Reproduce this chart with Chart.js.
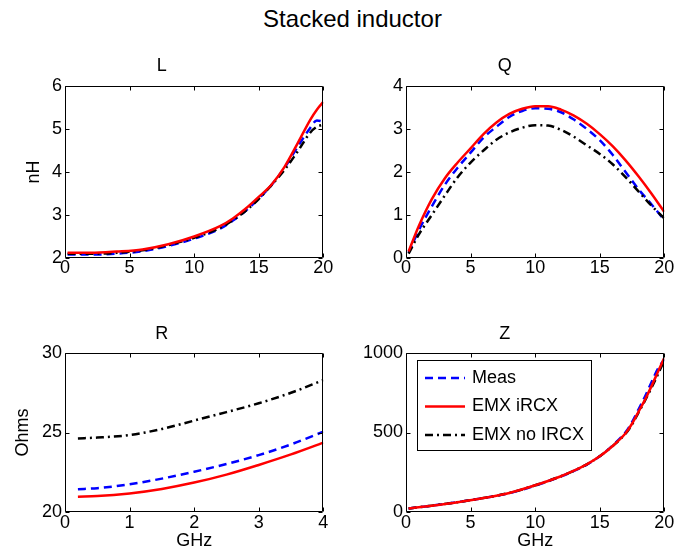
<!DOCTYPE html>
<html><head><meta charset="utf-8">
<script src="https://cdn.jsdelivr.net/npm/chart.js@4.4.1/dist/chart.umd.min.js"></script>
<style>
html,body{margin:0;padding:0;background:#fff;}
body{width:691px;height:557px;position:relative;overflow:hidden;font-family:"Liberation Sans",Arial,Helvetica,sans-serif;}
canvas{position:absolute;}
#mainTitle{position:absolute;left:0;width:705px;top:5px;text-align:center;font-size:24px;color:#000;white-space:nowrap;}
</style></head><body>
<div id="mainTitle">Stacked inductor</div>
<canvas id="cL"></canvas>
<canvas id="cQ"></canvas>
<canvas id="cR"></canvas>
<canvas id="cZ"></canvas>
<script>
// ---- data ----
const seriesNames = ['Meas', 'EMX iRCX', 'EMX no IRCX'];

const fL = [0.2, 2, 4, 6, 8, 10, 12, 13, 14, 15, 16, 17, 18, 19, 19.5, 20];
const lMeas = [2.08, 2.08, 2.10, 2.16, 2.28, 2.45, 2.68, 2.87, 3.10, 3.38, 3.70, 4.10, 4.58, 5.03, 5.20, 5.17];
const lEmx  = [2.12, 2.12, 2.15, 2.20, 2.32, 2.50, 2.74, 2.92, 3.15, 3.42, 3.71, 4.12, 4.66, 5.22, 5.45, 5.63];
const lNo   = [2.10, 2.10, 2.12, 2.18, 2.30, 2.47, 2.70, 2.88, 3.10, 3.37, 3.70, 4.05, 4.47, 4.92, 5.05, 5.10];

const fQ = [0.2, 1, 2, 3, 4, 5, 6, 7, 8, 9, 10, 11, 12, 13, 14, 15, 16, 17, 18, 19, 20];
const qMeas = [0.12, 0.65, 1.20, 1.70, 2.10, 2.45, 2.80, 3.05, 3.28, 3.42, 3.48, 3.47, 3.39, 3.22, 3.00, 2.74, 2.40, 2.00, 1.60, 1.25, 0.88];
const qEmx  = [0.15, 0.75, 1.37, 1.85, 2.22, 2.55, 2.88, 3.15, 3.35, 3.47, 3.53, 3.53, 3.45, 3.31, 3.12, 2.88, 2.60, 2.27, 1.90, 1.50, 1.07];
const qNo   = [0.10, 0.55, 1.00, 1.45, 1.88, 2.22, 2.50, 2.75, 2.92, 3.03, 3.09, 3.08, 2.98, 2.82, 2.62, 2.42, 2.18, 1.88, 1.55, 1.22, 0.92];

const fR = [0.2, 0.5, 1, 1.5, 2, 2.5, 3, 3.5, 4];
const rMeas = [21.43, 21.50, 21.74, 22.10, 22.53, 23.02, 23.58, 24.25, 25.05];
const rEmx  = [20.96, 21.00, 21.17, 21.45, 21.85, 22.35, 22.96, 23.62, 24.36];
const rNo   = [24.63, 24.68, 24.84, 25.22, 25.75, 26.28, 26.84, 27.50, 28.30];

const fZ = [0.2, 2, 4, 6, 8, 10, 12, 13, 14, 15, 16, 17, 17.5, 18, 18.5, 19, 19.5, 20];
const zMeas = [22, 40, 62, 88, 118, 166, 224, 258, 298, 350, 418, 502, 565, 645, 725, 815, 900, 960];
const zEmx  = [22, 40, 62, 88, 120, 168, 225, 260, 300, 350, 415, 495, 555, 630, 705, 790, 880, 970];
const zNo   = [22, 40, 62, 88, 120, 168, 225, 260, 300, 350, 415, 493, 550, 625, 700, 780, 865, 955];

const ticksL = {min: 2, max: 6, step: 1};
const ticksQ = {min: 0, max: 4, step: 1};
const ticksR = {min: 20, max: 30, step: 5};
const ticksZ = {min: 0, max: 1000, step: 500};
const xTicks20 = {min: 0, max: 20, step: 5};
const xTicks4 = {min: 0, max: 4, step: 1};

// ---- styling ----
const FAM = '"Liberation Sans", Arial, Helvetica, sans-serif';
const styles = [
  {borderColor: '#0000ff', borderDash: [8, 5], order: 3},
  {borderColor: '#ff0000', borderDash: [], order: 1},
  {borderColor: '#000000', borderDash: [8, 4, 2, 4], order: 2}
];

function pts(xs, ys) { return xs.map((x, i) => ({x: x, y: ys[i]})); }
function makeSets(xs, arrs) {
  return arrs.map((ys, i) => Object.assign({
    label: seriesNames[i], data: pts(xs, ys), borderWidth: 2.5,
    pointRadius: 0, fill: false, cubicInterpolationMode: 'monotone'
  }, styles[i]));
}

const framePlugin = {
  id: 'frame',
  afterDraw(chart) {
    const {ctx, chartArea: a, scales: {x, y}} = chart;
    const L = Math.round(a.left) + 0.5, R = Math.round(a.right) - 0.5;
    const T = Math.round(a.top) + 0.5, B = Math.round(a.bottom) - 0.5;
    const tl = 4;
    ctx.save();
    ctx.strokeStyle = '#000'; ctx.lineWidth = 1; ctx.setLineDash([]);
    ctx.beginPath();
    ctx.rect(L, T, R - L, B - T);
    x.ticks.forEach(t => {
      const px = Math.round(x.getPixelForValue(t.value)) + 0.5;
      ctx.moveTo(px, B); ctx.lineTo(px, B - tl);
      ctx.moveTo(px, T); ctx.lineTo(px, T + tl);
    });
    y.ticks.forEach(t => {
      const py = Math.round(y.getPixelForValue(t.value)) + 0.5;
      ctx.moveTo(L, py); ctx.lineTo(L + tl, py);
      ctx.moveTo(R, py); ctx.lineTo(R - tl, py);
    });
    ctx.stroke();
    ctx.restore();
  }
};

const boxLegendPlugin = {
  id: 'boxLegend',
  afterDraw(chart) {
    const {ctx, chartArea: a} = chart;
    const bx = a.left + 11, by = a.top + 7, bw = 174, bh = 90;
    ctx.save();
    ctx.fillStyle = '#fff';
    ctx.fillRect(bx, by, bw, bh);
    ctx.strokeStyle = '#000'; ctx.lineWidth = 1; ctx.setLineDash([]);
    ctx.strokeRect(Math.round(bx) + 0.5, Math.round(by) + 0.5, bw, bh);
    const rows = [25, 53.5, 82];
    chart.data.datasets.forEach((ds, i) => {
      const yy = a.top + rows[i];
      ctx.beginPath();
      ctx.strokeStyle = ds.borderColor; ctx.lineWidth = ds.borderWidth;
      ctx.setLineDash(ds.borderDash || []);
      ctx.moveTo(a.left + 19, yy); ctx.lineTo(a.left + 59, yy);
      ctx.stroke();
      ctx.setLineDash([]);
      ctx.fillStyle = '#000';
      ctx.font = '18px ' + FAM;
      ctx.textBaseline = 'middle'; ctx.textAlign = 'left';
      ctx.fillText(ds.label, a.left + 66, yy);
    });
    ctx.restore();
  }
};

function makeChart(id, cfg) {
  const c = document.getElementById(id);
  c.width = cfg.w; c.height = cfg.h;
  c.style.left = cfg.left + 'px'; c.style.top = cfg.top + 'px';
  c.style.width = cfg.w + 'px'; c.style.height = cfg.h + 'px';
  const tickFont = {family: FAM, size: 18, lineHeight: 1.2};
  const labelFont = {family: FAM, size: 18, lineHeight: 1.2};
  const plain = v => String(v);
  return new Chart(c, {
    type: 'line',
    data: {datasets: cfg.datasets},
    options: {
      responsive: false, animation: false, devicePixelRatio: 1,
      layout: {padding: {left: 0, right: cfg.padRight, top: 0, bottom: 0}},
      plugins: {
        legend: {display: false}, tooltip: {enabled: false},
        title: {display: true, text: cfg.title, color: '#000',
          font: {family: FAM, size: 18, weight: 'normal', lineHeight: 1.2},
          padding: {top: cfg.titlePadTop, bottom: cfg.titlePadBottom}}
      },
      scales: {
        x: {
          type: 'linear', min: cfg.xt.min, max: cfg.xt.max,
          grid: {display: false, drawTicks: false}, border: {display: false},
          ticks: {stepSize: cfg.xt.step, color: '#000', font: tickFont, padding: cfg.xTickPad, maxRotation: 0, autoSkip: false, callback: plain},
          title: cfg.xTitle ? {display: true, text: cfg.xTitle, color: '#000', font: labelFont, padding: {top: 0, bottom: cfg.xTitlePad}} : {display: false},
          afterFit(s) { s.height = cfg.xh; }
        },
        y: {
          type: 'linear', min: cfg.yt.min, max: cfg.yt.max,
          grid: {display: false, drawTicks: false}, border: {display: false},
          ticks: {stepSize: cfg.yt.step, color: '#000', font: tickFont, padding: 3, autoSkip: false, callback: plain},
          title: cfg.yTitle ? {display: true, text: cfg.yTitle, color: '#000', font: labelFont, padding: {top: cfg.yTitlePad, bottom: 0}} : {display: false},
          afterFit(s) { s.width = cfg.yw; }
        }
      }
    },
    plugins: cfg.legend ? [framePlugin, boxLegendPlugin] : [framePlugin]
  });
}

// top row: plot area y 86..258 ; bottom row: 353..512
// left col: x 65..323.3 ; right col: 406..664.3
makeChart('cL', {left: 0, top: 50, w: 345, h: 235, padRight: 21.7, yw: 65, xh: 27,
  title: 'L', titlePadTop: 5.7, titlePadBottom: 8.7, xTickPad: -0.5,
  xt: xTicks20, yt: ticksL, yTitle: 'nH', yTitlePad: 23.7,
  datasets: makeSets(fL, [lMeas, lEmx, lNo])});
makeChart('cQ', {left: 345, top: 50, w: 346, h: 235, padRight: 26.7, yw: 61, xh: 27,
  title: 'Q', titlePadTop: 5.7, titlePadBottom: 8.7, xTickPad: -0.5,
  xt: xTicks20, yt: ticksQ,
  datasets: makeSets(fQ, [qMeas, qEmx, qNo])});
makeChart('cR', {left: 0, top: 318, w: 345, h: 239, padRight: 21.7, yw: 65, xh: 45,
  title: 'R', titlePadTop: 5.7, titlePadBottom: 7.7, xTickPad: 0.5,
  xt: xTicks4, yt: ticksR, yTitle: 'Ohms', yTitlePad: 12.7,
  xTitle: 'GHz', xTitlePad: 4.7,
  datasets: makeSets(fR, [rMeas, rEmx, rNo])});
makeChart('cZ', {left: 345, top: 318, w: 346, h: 239, padRight: 26.7, yw: 61, xh: 45,
  title: 'Z', titlePadTop: 5.7, titlePadBottom: 7.7, xTickPad: 0.5,
  xt: xTicks20, yt: ticksZ,
  xTitle: 'GHz', xTitlePad: 4.7, legend: true,
  datasets: makeSets(fZ, [zMeas, zEmx, zNo])});
</script>
</body></html>
